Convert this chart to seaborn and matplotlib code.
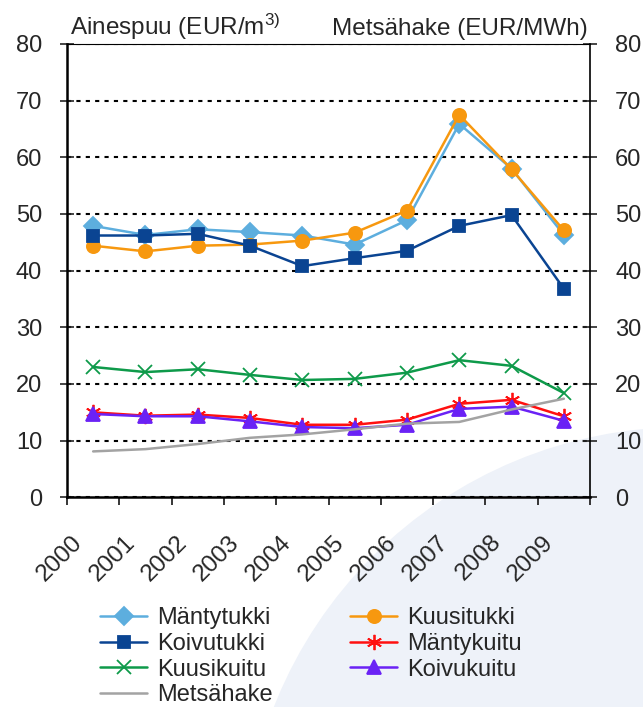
import numpy as np
import pandas as pd
import seaborn as sns
import matplotlib.pyplot as plt
from matplotlib.patches import Circle
from matplotlib.transforms import ScaledTranslation

# data
years = ['2000', '2001', '2002', '2003', '2004', '2005', '2006', '2007', '2008', '2009']
mantytukki = [47.9, 46.3, 47.3, 46.8, 46.2, 44.6, 48.9, 65.9, 58.0, 46.3]
kuusitukki = [44.4, 43.4, 44.4, 44.6, 45.3, 46.7, 50.6, 67.5, 57.9, 47.1]
koivutukki = [46.2, 46.2, 46.5, 44.4, 40.8, 42.2, 43.5, 47.9, 49.8, 36.8]
mantykuitu = [15.0, 14.4, 14.6, 14.0, 12.8, 12.8, 13.7, 16.5, 17.2, 14.3]
kuusikuitu = [23.0, 22.1, 22.6, 21.6, 20.7, 20.9, 22.0, 24.2, 23.2, 18.4]
koivukuitu = [14.7, 14.3, 14.3, 13.4, 12.4, 12.2, 12.8, 15.6, 16.0, 13.5]
metsahake = [8.1, 8.5, 9.4, 10.5, 11.1, 12.0, 13.0, 13.3, 15.5, 17.4]

sns.set_style('white')
plt.rcParams['font.family'] = ['Liberation Sans', 'DejaVu Sans']
plt.rcParams['mathtext.default'] = 'regular'

fig = plt.figure(figsize=(6.43, 7.07), dpi=100)

# pale background swoosh
swoosh = Circle((6.85, -1.62), 4.42, transform=fig.dpi_scale_trans,
                facecolor='#EEF2F9', edgecolor='none', zorder=-5)
fig.add_artist(swoosh)

ax = fig.add_axes([0.1042, 0.2966, 0.8134, 0.6412])
ax.set_facecolor('none')

x = np.arange(len(years))
series = [
    ('Mäntytukki', mantytukki, '#5DAEDE', 'D', 9.5),
    ('Kuusitukki', kuusitukki, '#F7980F', 'o', 9.5),
    ('Koivutukki', koivutukki, '#0A4492', 's', 9),
    ('Mäntykuitu', mantykuitu, '#FF1010', (6, 2, 0), 11),
    ('Kuusikuitu', kuusikuitu, '#0E9A4A', 'x', 9.5),
    ('Koivukuitu', koivukuitu, '#6A22F5', '^', 10),
    ('Metsähake', metsahake, '#A3A3A3', None, 0),
]
for name, vals, col, mk, ms in series:
    sns.lineplot(x=x, y=vals, ax=ax, color=col, marker=mk, markersize=ms,
                 markeredgecolor=col, markerfacecolor=col, markeredgewidth=1.3,
                 lw=1.8, label=name)
if ax.get_legend() is not None:
    ax.get_legend().remove()

ax.set_xlim(-0.5, 9.5)
ax.set_ylim(0, 80)
ax.set_xlabel('')
ax.set_ylabel('')

ax.set_xticks(np.arange(-0.5, 10, 1))
ax.set_xticklabels([])
ax.set_xticks(x, minor=True)
ax.set_xticklabels(years, minor=True, rotation=45, ha='right', va='center',
                   rotation_mode='anchor', fontsize=17.5)
ax.tick_params(axis='x', which='major', direction='out', length=6, width=1.3, bottom=True)
ax.tick_params(axis='x', which='minor', length=0, pad=30)
for lab in ax.get_xticklabels(minor=True):
    lab.set_transform(lab.get_transform() + ScaledTranslation(-0.14, 0, fig.dpi_scale_trans))

ax.set_yticks(range(0, 81, 10))
ax.tick_params(axis='y', direction='inout', length=10, width=1.2, pad=13,
               labelsize=17, left=True, right=True, labelright=True)

ax.yaxis.grid(True, color='black', linestyle=(0, (2, 2.5)), lw=1.5)
ax.xaxis.grid(False)

ax.spines['left'].set_linewidth(1.8)
ax.spines['bottom'].set_linewidth(1.8)
ax.spines['right'].set_linewidth(1.2)
ax.spines['top'].set_linewidth(0.8)
for s in ax.spines.values():
    s.set_color('black')

fig.text(70 / 643, 1 - 35 / 707, 'Ainespuu (EUR/m$^{3)}$', fontsize=17.5,
         ha='left', va='baseline')
fig.text(588 / 643, 1 - 35 / 707, 'Metsähake (EUR/MWh)', fontsize=17.5,
         ha='right', va='baseline')

handles, labels = ax.get_legend_handles_labels()
order = ['Mäntytukki', 'Koivutukki', 'Kuusikuitu', 'Metsähake',
         'Kuusitukki', 'Mäntykuitu', 'Koivukuitu']
h = [handles[labels.index(n)] for n in order]
fig.legend(h, order, ncol=2, loc='upper left', bbox_to_anchor=(100 / 643, 1 - 607 / 707),
           frameon=False, fontsize=17, handlelength=2.0, handletextpad=0.4,
           columnspacing=3.3, labelspacing=0.16, borderpad=0, borderaxespad=0)

fig.savefig('out.png', dpi=100)
